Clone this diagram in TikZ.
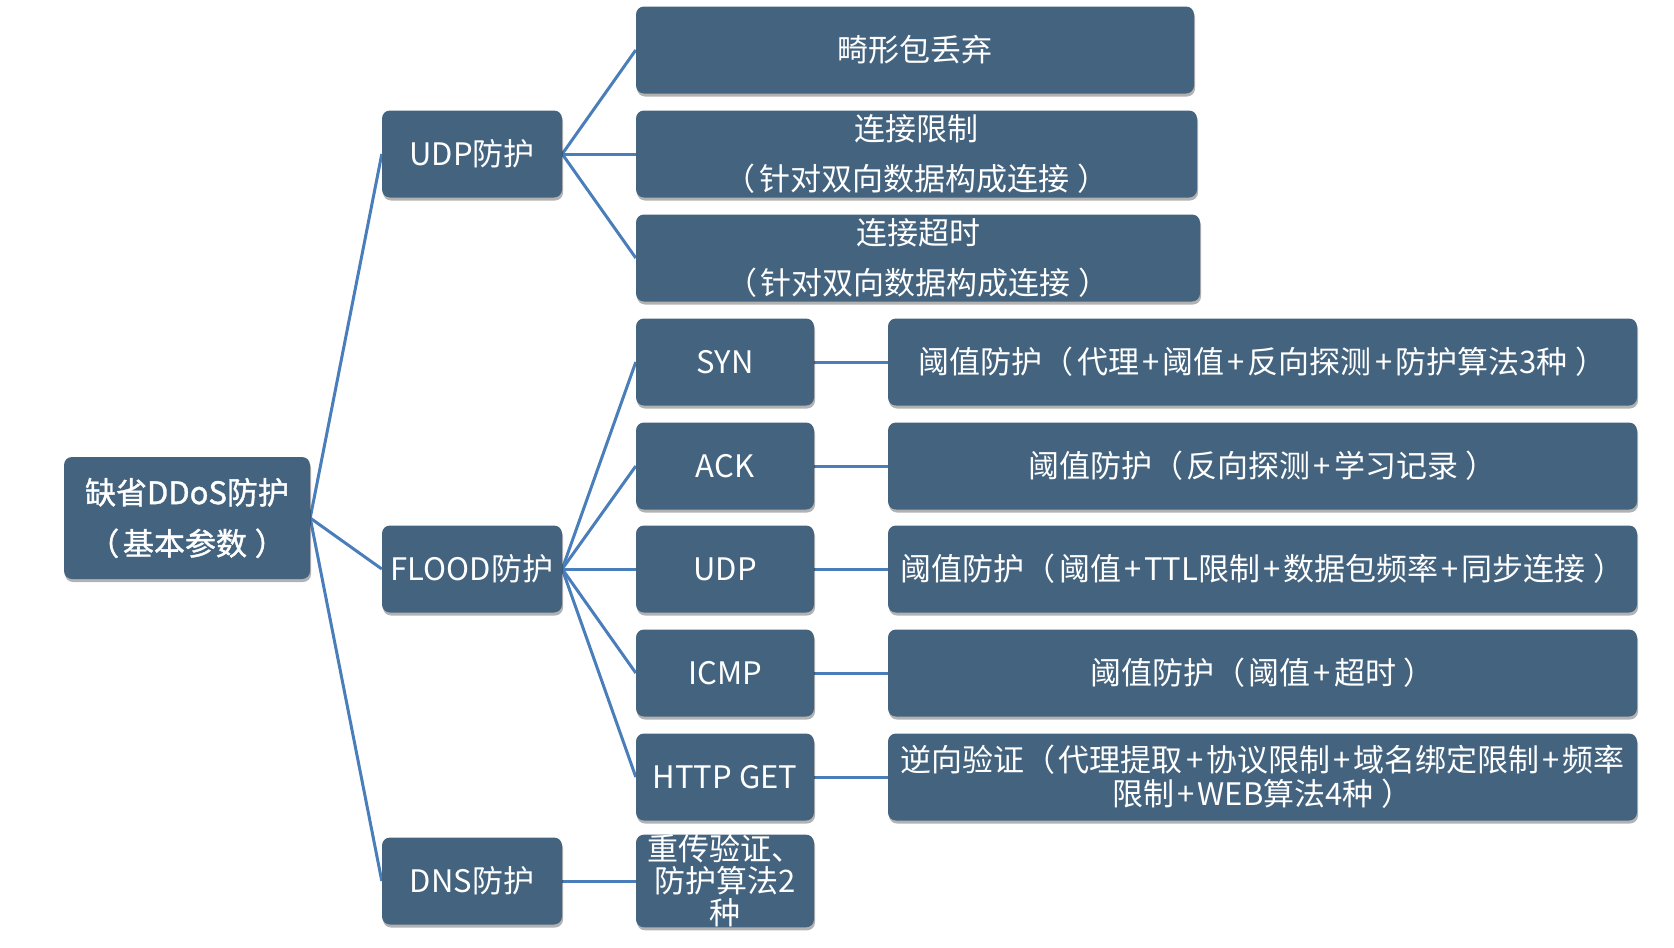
\documentclass[tikz,border=0pt]{standalone}
\usepackage{fontspec}
\setmainfont{Noto Sans CJK SC}
\newfontfamily\rootfont[FakeBold=1.2]{Noto Sans CJK SC}
\usetikzlibrary{shadows,backgrounds}
\definecolor{boxfill}{RGB}{67,99,127}
\definecolor{linec}{RGB}{74,126,187}
\newcommand\lpar{（\hspace{0.12em}}
\newcommand\rpar{\hspace{0.25em}）}
\newcommand\plus{\makebox[0.75em]{+}}
\tikzset{
  box/.style={rectangle, rounded corners=8pt, fill=boxfill, text=white, inner sep=0pt,
    minimum height=87pt, align=center, font=\fontsize{31pt}{50pt}\selectfont,
    drop shadow={shadow xshift=1pt, shadow yshift=-3pt, opacity=0.3, fill=black}},
  lvtwo/.style={box, minimum width=180pt},
  leaf/.style={box, minimum width=178pt},
  wide/.style={box, minimum width=749pt},
  conn/.style={draw=linec, line width=3pt},
}
\begin{document}
\begin{tikzpicture}[x=1pt,y=-1pt]
\useasboundingbox (0,0) rectangle (1674,948);
% root
\node[box, minimum width=246pt, minimum height=122pt, font=\rootfont\fontsize{31pt}{51pt}\selectfont] (root) at (187,518) {缺省DDoS防护\\\lpar 基本参数\rpar};
% level 2
\node[lvtwo] (udpp) at (472,154) {UDP防护};
\node[lvtwo] (flood) at (472,569) {FLOOD防护};
\node[lvtwo] (dnsp) at (472,881) {DNS防护};
% UDP children
\node[box, minimum width=558pt] (jx) at (915,50) {畸形包丢弃};
\node[box, minimum width=561pt] (ljxz) at (916.5,154) {连接限制\\\lpar 针对双向数据构成连接\rpar};
\node[box, minimum width=564pt] (ljcs) at (918,258) {连接超时\\\lpar 针对双向数据构成连接\rpar};
% FLOOD children
\node[leaf] (syn) at (725,362) {SYN};
\node[leaf] (ack) at (725,466) {ACK};
\node[leaf] (udp) at (725,569) {UDP};
\node[leaf] (icmp) at (725,673) {ICMP};
\node[leaf] (http) at (725,777) {HTTP GET};
% DNS child
\node[leaf, font=\fontsize{31pt}{32pt}\selectfont] (dnsl) at (725,881) {重传验证、\\防护算法2\\种};
% right column
\node[wide] (synr) at (1262.5,362) {阈值防护\lpar 代理\plus 阈值\plus 反向探测\plus 防护算法3种\rpar};
\node[wide] (ackr) at (1262.5,466) {阈值防护\lpar 反向探测\plus 学习记录\rpar};
\node[wide] (udpr) at (1262.5,569) {阈值防护\lpar 阈值\plus TTL限制\plus 数据包频率\plus 同步连接\rpar};
\node[wide] (icmpr) at (1262.5,673) {阈值防护\lpar 阈值\plus 超时\rpar};
\node[wide, font=\fontsize{31pt}{34pt}\selectfont] (httpr) at (1262.5,777) {逆向验证\lpar 代理提取\plus 协议限制\plus 域名绑定限制\plus 频率\\限制\plus WEB算法4种\rpar};
% connectors
\begin{scope}[on background layer]
\draw[conn] (root.east) -- (udpp.west);
\draw[conn] (root.east) -- (flood.west);
\draw[conn] (root.east) -- (dnsp.west);
\draw[conn] (udpp.east) -- (jx.west);
\draw[conn] (udpp.east) -- (ljxz.west);
\draw[conn] (udpp.east) -- (ljcs.west);
\draw[conn] (flood.east) -- (syn.west);
\draw[conn] (flood.east) -- (ack.west);
\draw[conn] (flood.east) -- (udp.west);
\draw[conn] (flood.east) -- (icmp.west);
\draw[conn] (flood.east) -- (http.west);
\draw[conn] (dnsp.east) -- (dnsl.west);
\draw[conn] (syn.east) -- (synr.west);
\draw[conn] (ack.east) -- (ackr.west);
\draw[conn] (udp.east) -- (udpr.west);
\draw[conn] (icmp.east) -- (icmpr.west);
\draw[conn] (http.east) -- (httpr.west);
\end{scope}
\end{tikzpicture}
\end{document}
